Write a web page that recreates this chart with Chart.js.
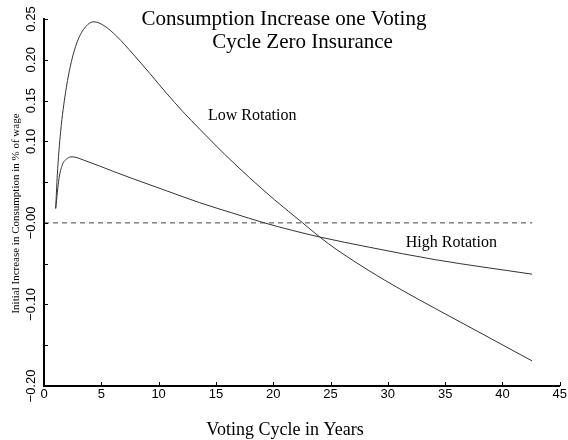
<!DOCTYPE html>
<html>
<head>
<meta charset="utf-8">
<script src="https://cdn.jsdelivr.net/npm/chart.js@4.4.1/dist/chart.umd.min.js"></script>
<style>
  html, body { margin: 0; padding: 0; background: #fff; }
  #wrap { width: 568px; height: 440px; }
</style>
</head>
<body>
<div id="wrap"><canvas id="myChart" width="568" height="440"></canvas></div>
<script>
// voting cycle in years / initial consumption increase (share of wage)
const lowRotYears  = [1.02, 1.16, 1.45, 1.89, 2.32, 2.90, 3.63, 4.35, 5.22, 6.33, 7.77, 9.23, 10.68, 12.12,
                      13.58, 15.75, 17.93, 20.10, 22.57, 24.02, 25.61, 28.37, 30.98, 34.18, 38.38, 42.59];
const lowRotValues = [0.0177, 0.0585, 0.1117, 0.1607, 0.1935, 0.2221, 0.2405, 0.2466, 0.2420, 0.2290, 0.2070, 0.1833, 0.1591, 0.1364,
                      0.1150, 0.0843, 0.0555, 0.0285, 0.0, -0.0169, -0.0335, -0.0587, -0.0805, -0.1053, -0.1372, -0.1693];

const highRotYears  = [1.02, 1.31, 1.59, 2.03, 2.46, 3.48, 6.09, 7.77, 10.68, 13.58, 16.48, 19.23, 21.70, 24.02, 28.37, 34.18, 42.59];
const highRotValues = [0.0177, 0.0545, 0.0708, 0.0790, 0.0810, 0.0769, 0.0629, 0.0541, 0.0394, 0.0248, 0.0119, 0.0,
                       -0.0093, -0.0172, -0.0298, -0.0452, -0.0629];

const zeroYears  = [0, 42.6];
const zeroValues = [0, 0];

const xTickLabels = ['0', '5', '10', '15', '20', '25', '30', '35', '40', '45'];
const yTickValues = [-0.20, -0.15, -0.10, -0.05, 0, 0.05, 0.10, 0.15, 0.20, 0.25];
const yTickLabels = ['\u22120.20', '', '\u22120.10', '', '\u22120.00', '', '0.10', '0.15', '0.20', '0.25'];

const toPoints = (xs, ys) => xs.map((x, i) => ({x: x, y: ys[i]}));

const serif = "'Liberation Serif', 'Times New Roman', serif";
const sans = "'Liberation Sans', Arial, sans-serif";

// inward tick marks, titles and curve labels
const extras = {
  id: 'extras',
  afterDraw(chart) {
    const {ctx, chartArea: a, scales: {x, y}} = chart;
    ctx.save();
    ctx.strokeStyle = '#000';
    ctx.lineWidth = 1;
    ctx.beginPath();
    x.ticks.forEach(t => {
      const px = Math.round(x.getPixelForValue(t.value)) + 0.5;
      ctx.moveTo(px, a.bottom);
      ctx.lineTo(px, a.bottom - 4);
    });
    y.ticks.forEach(t => {
      const py = Math.round(y.getPixelForValue(t.value)) + 0.5;
      ctx.moveTo(a.left, py);
      ctx.lineTo(a.left + 4, py);
    });
    ctx.stroke();

    ctx.fillStyle = '#000';
    ctx.textAlign = 'center';
    ctx.textBaseline = 'alphabetic';
    ctx.font = '21px ' + serif;
    ctx.fillText('Consumption Increase one Voting', 284, 24.5);
    ctx.fillText('Cycle Zero Insurance', 302.5, 48);

    ctx.font = '16px ' + serif;
    ctx.fillText('Low Rotation', x.getPixelForValue(18.17), y.getPixelForValue(0.126));
    ctx.fillText('High Rotation', x.getPixelForValue(35.54), y.getPixelForValue(-0.0292));

    ctx.font = '18px ' + serif;
    ctx.fillText('Voting Cycle in Years', 285, 434.5);

    ctx.translate(19, 213.5);
    ctx.rotate(-Math.PI / 2);
    ctx.font = '11px ' + serif;
    ctx.fillText('Initial Increase in Consumption in % of wage', 0, 0);
    ctx.restore();
  }
};

const ctx = document.getElementById('myChart').getContext('2d');

const myChart = new Chart(ctx, {
  type: 'line',
  data: {
    datasets: [
      {
        label: 'zero',
        data: toPoints(zeroYears, zeroValues),
        borderColor: '#444',
        borderWidth: 1,
        borderDash: [5, 4]
      },
      {
        label: 'Low Rotation',
        data: toPoints(lowRotYears, lowRotValues),
        borderColor: '#333',
        borderWidth: 1,
        cubicInterpolationMode: 'monotone'
      },
      {
        label: 'High Rotation',
        data: toPoints(highRotYears, highRotValues),
        borderColor: '#333',
        borderWidth: 1,
        cubicInterpolationMode: 'monotone'
      }
    ]
  },
  options: {
    responsive: false,
    animation: false,
    layout: { padding: { left: 0, right: 7, top: 19, bottom: 0 } },
    elements: { point: { radius: 0 } },
    plugins: {
      legend: { display: false },
      tooltip: { enabled: false }
    },
    scales: {
      x: {
        type: 'linear',
        min: 0,
        max: 45,
        grid: { display: false, drawTicks: false },
        border: { display: true, color: '#000', width: 2 },
        ticks: {
          stepSize: 5,
          autoSkip: false,
          maxRotation: 0,
          padding: 1,
          color: '#000',
          font: { family: sans, size: 13 },
          callback: (v, i) => xTickLabels[i]
        },
        afterFit: s => { s.height = 54; }
      },
      y: {
        min: -0.20,
        max: 0.25,
        grid: { display: false, drawTicks: false },
        border: { display: true, color: '#000', width: 2 },
        afterBuildTicks: s => { s.ticks = yTickValues.map(v => ({value: v})); },
        ticks: {
          autoSkip: false,
          minRotation: 90,
          maxRotation: 90,
          crossAlign: 'center',
          padding: -4,
          color: '#000',
          font: { family: sans, size: 13 },
          callback: (v, i) => yTickLabels[i]
        },
        afterFit: s => { s.width = 44; }
      }
    }
  },
  plugins: [extras]
});
</script>
</body>
</html>
